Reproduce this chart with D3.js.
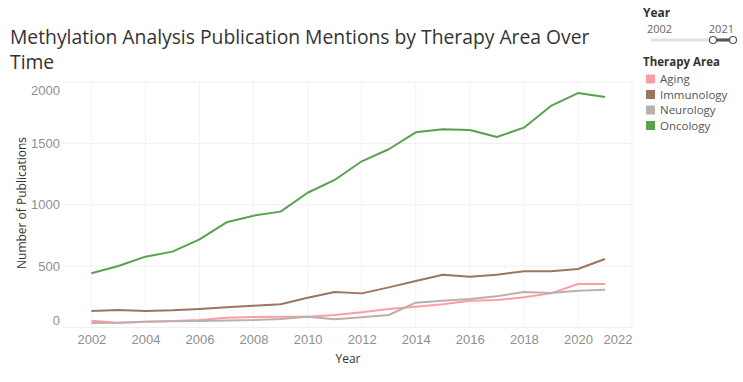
<!DOCTYPE html>
<html><head><meta charset="utf-8">
<script src="https://cdn.jsdelivr.net/npm/d3@7"></script>
<style>
html,body{margin:0;padding:0;background:#fff;}
svg{display:block;font-family:"Open Sans","Noto Sans",sans-serif;}
</style></head>
<body><svg id="chart" width="743" height="382"></svg>
<script>
const years = [2002,2003,2004,2005,2006,2007,2008,2009,2010,2011,2012,2013,2014,2015,2016,2017,2018,2019,2020,2021];
const aging =      [55,39,47,53,61,80,86,88,88,102,124,151,170,189,218,224,246,278,354,354];
const immunology = [134,142,134,140,151,164,178,189,243,289,278,327,379,430,414,430,458,458,477,558];
const neurology =  [37,39,47,50,53,58,61,69,88,67,83,102,202,218,232,254,289,281,300,308];
const oncology =   [442,501,577,618,718,857,911,944,1098,1202,1354,1452,1590,1615,1609,1552,1628,1805,1910,1877];
const seriesNames = ["Aging","Immunology","Neurology","Oncology"];
const seriesColors = ["#ff9da7","#9c755f","#bab0ac","#59a14f"];
const xTicks = [2002,2004,2006,2008,2010,2012,2014,2016,2018,2020,2022];
const yTicks = [0,500,1000,1500,2000];

const series = [aging, immunology, neurology, oncology];
const svg = d3.select("#chart");
const L = 63, R = 632, T = 82, B = 327.5;
const x = d3.scaleLinear().domain([2000.95, 2022]).range([L, R]);
const y = d3.scaleLinear().domain([0, 2000]).range([B, T]);

// gridlines
const grid = svg.append("g");
grid.selectAll("line.h").data(yTicks).join("line")
  .attr("x1", L).attr("x2", R).attr("y1", d => y(d)).attr("y2", d => y(d))
  .attr("stroke", "#efefef").attr("stroke-width", 1);
grid.selectAll("line.v").data(xTicks).join("line")
  .attr("x1", d => x(d)).attr("x2", d => x(d)).attr("y1", T).attr("y2", B)
  .attr("stroke", "#f2f2f2").attr("stroke-width", 1);

// y axis
const yAxis = svg.append("g").attr("transform", `translate(${L},0)`)
  .call(d3.axisLeft(y).tickValues(yTicks).tickSize(0).tickPadding(3).tickFormat(d3.format("d")));
yAxis.select(".domain").remove();
yAxis.selectAll("text").attr("fill", "#8f8f8f").style("font-size", "13px")
  .attr("dy", d => d === 2000 ? "0.95em" : d === 0 ? "-0.25em" : "0.32em");

// x axis
const xAxis = svg.append("g").attr("transform", `translate(0,${B})`)
  .call(d3.axisBottom(x).tickValues(xTicks).tickSize(0).tickPadding(7).tickFormat(d3.format("d")));
xAxis.select(".domain").remove();
xAxis.selectAll("text").attr("fill", "#8f8f8f").style("font-size", "13px")
  .attr("text-anchor", d => d === 2022 ? "end" : "middle")
  .attr("x", d => d === 2022 ? R - x(d) : 0);

// axis titles
svg.append("text").attr("x", 348).attr("y", 363).attr("text-anchor", "middle")
  .attr("fill", "#333").style("font-size", "12px").text("Year");
svg.append("text").attr("transform", "translate(26,203) rotate(-90)").attr("text-anchor", "middle")
  .attr("fill", "#333").style("font-size", "12px").text("Number of Publications");

// lines
const line = d3.line().x((d, i) => x(years[i])).y(d => y(d));
svg.append("g").selectAll("path").data(series).join("path")
  .attr("d", d => line(d)).attr("fill", "none")
  .attr("stroke", (d, i) => seriesColors[i]).attr("stroke-width", 2)
  .attr("stroke-linejoin", "round");

// title
const title1 = svg.append("text").attr("x", 10).attr("y", 44).attr("fill", "#333")
  .style("font-size", "20px").text("Methylation Analysis Publication Mentions by Therapy Area Over");
const w = title1.node().getComputedTextLength();
const fs = 20 * 580 / w;
title1.style("font-size", fs + "px");
svg.append("text").attr("x", 10).attr("y", 69).attr("fill", "#333")
  .style("font-size", fs + "px").text("Time");

// Year slider legend
svg.append("text").attr("x", 643).attr("y", 17).attr("fill", "#333")
  .style("font-size", "12px").style("font-weight", "bold").text("Year");
svg.append("text").attr("x", 647).attr("y", 33).attr("fill", "#666").style("font-size", "11px").text(years[0]);
svg.append("text").attr("x", 734).attr("y", 33).attr("fill", "#666").attr("text-anchor", "end")
  .style("font-size", "11px").text(years[years.length - 1]);
svg.append("line").attr("x1", 651).attr("x2", 733).attr("y1", 40).attr("y2", 40)
  .attr("stroke", "#e2e2e2").attr("stroke-width", 3);
svg.append("line").attr("x1", 713).attr("x2", 733).attr("y1", 40).attr("y2", 40)
  .attr("stroke", "#555").attr("stroke-width", 3);
[713, 733].forEach(cx => svg.append("circle").attr("cx", cx).attr("cy", 40).attr("r", 3.5)
  .attr("fill", "#fff").attr("stroke", "#555").attr("stroke-width", 1.2));

// Therapy legend
svg.append("text").attr("x", 643).attr("y", 66).attr("fill", "#333")
  .style("font-size", "11.5px").style("font-weight", "bold").text("Therapy Area");
const lg = svg.append("g").selectAll("g").data(seriesNames).join("g")
  .attr("transform", (d, i) => `translate(646,${79 + i * 15.5})`);
lg.append("rect").attr("x", 0).attr("y", -4.5).attr("width", 9).attr("height", 9)
  .attr("fill", (d, i) => seriesColors[i]);
lg.append("text").attr("x", 14).attr("y", 0).attr("dy", "0.35em").attr("fill", "#555")
  .style("font-size", "11.5px").text(d => d);
</script></body></html>
